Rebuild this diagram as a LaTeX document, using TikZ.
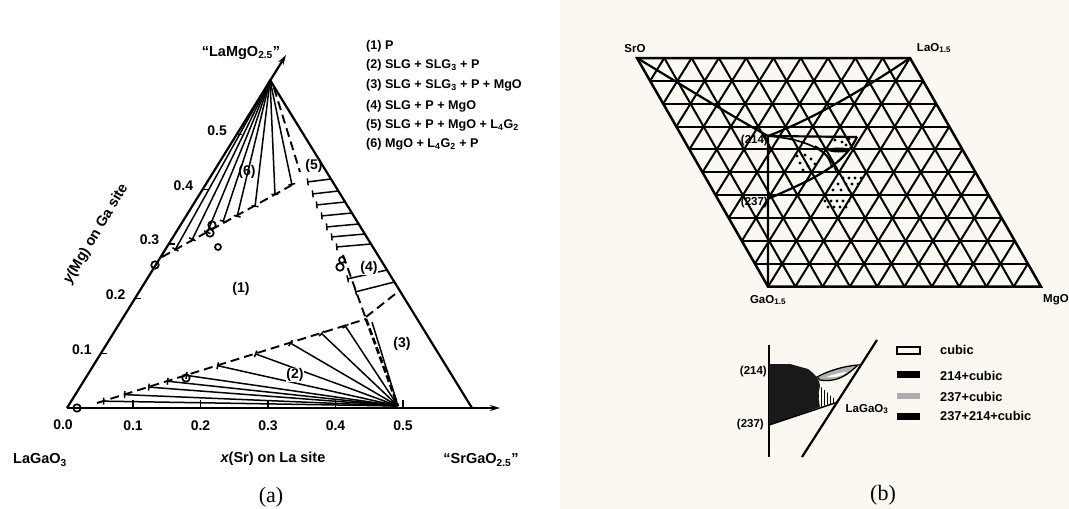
\documentclass[tikz,border=0pt]{standalone}
\usepackage{fontspec}
\setmainfont{Liberation Sans}
\newfontfamily\serifab{Liberation Serif}
\usetikzlibrary{arrows.meta,calc}
\definecolor{cream}{RGB}{250,248,241}
\newcommand\fsNum{\bfseries\fontsize{14}{15}\selectfont}
\newcommand\fsLeg{\bfseries\fontsize{12.6}{14}\selectfont}
\newcommand\fsLegB{\bfseries\fontsize{12.8}{14}\selectfont}
\newcommand\fsBig{\bfseries\fontsize{14.5}{16}\selectfont}
\newcommand\fsSmall{\bfseries\fontsize{11.5}{13}\selectfont}
\begin{document}
\begin{tikzpicture}[x=1pt,y=-1pt,
  mainln/.style={line width=2.2pt},
  tickln/.style={line width=1.5pt},
  tieln/.style={line width=1.5pt},
  tieend/.style={line width=1.5pt,-{Bar[width=7pt,line width=1.5pt]}},
  bnd/.style={line width=1.9pt,dash pattern=on 9pt off 5pt},
  bndthick/.style={line width=2.7pt,dash pattern=on 7pt off 3pt},
  lbl/.style={font=\fsNum,inner sep=0.5pt},
  leg/.style={font=\fsLeg,inner sep=0pt,anchor=west},
  legb/.style={font=\fsLegB,inner sep=0pt,anchor=west},
  dpt/.style={circle,draw,line width=1.7pt,minimum size=7.5pt,inner sep=0pt},
  gridln/.style={line width=2pt},
  arr/.style={-{Stealth[length=10pt,width=6pt]}}]
\useasboundingbox (0,0) rectangle (1069,509);
\fill[white] (0,0) rectangle (1069,509);
\fill[cream] (560,0) rectangle (1069,509);

% ================= (a) =================
\coordinate (O) at (67,408);
\coordinate (Rc) at (472,408);
\coordinate (A) at (270,80);
\coordinate (Ax) at (500,408);
\coordinate (Ay) at (286,55);
\coordinate (F) at (398,406);
\coordinate (J) at (366,319);
\coordinate (D0) at (97,403);

\draw[mainln,arr] (O) -- (Ax);
\draw[mainln,arr] (O) -- (Ay);
\draw[mainln] (Rc) -- (A);

% x ticks
\node[lbl] (x0) at (63,425) {0.0};
\foreach \xx/\lab [count=\n] in {133/0.1,200.5/0.2,268/0.3,335.5/0.4,403/0.5} {
  \draw[tickln] (\xx,408) -- (\xx,400);
  \node[lbl] (xt\n) at (\xx,426) {\lab};
}
% y ticks
\foreach \lab [count=\n] in {0.1,0.2,0.3,0.4,0.5} {
  \coordinate (yt\n) at ($(O)!\n/6!(A)$);
  \draw[tickln] (yt\n) -- ++(6,0);
  \node[lbl] (yl\n) at ($(yt\n)+(-19,-4)$) {\lab};
}

% region (2): fan from F
\draw[bnd] (D0) -- (J);
\foreach \t in {0.022,0.1,0.19,0.26,0.33,0.446,0.587,0.717,0.833,0.922} {
  \draw[tieend] (F) -- ($(D0)!\t!(J)$);
}
\draw[tieln] (F) -- (372,322);
\draw[bndthick] (J) -- (F);

% region (6): fan from apex
\draw[bnd] (162,257) -- (292,185);
\foreach \p in {(175,250),(192,240),(207,233),(223,222),(237,217),(255,207),(275,195),(292,185)} {
  \draw[tieend] (A) -- \p;
}
% region (5)
\draw[bnd] (274,88) -- (300,172);

% region (4)/(5) hatch
\foreach \lx/\ly/\rx/\ry in {307/182/331/179,312/194/338.4/191,316/205/345.1/202,321/216/351.9/213,326/227/358.7/224,331/237/364.8/234,336/247/371/244,347/279/387/270,355/292/394.4/282} {
  \draw[tieend] (\rx,\ry) -- (\lx,\ly);
}
\draw[bnd] (343,255) -- (J);
\draw[bnd] (366,317) -- (399,291);

% data points
\node[dpt] (c1) at (77,408) {};
\node[dpt] (c2) at (155,265) {};
\node[dpt] (c3) at (186,378) {};
\node[dpt] (c4) at (212,225) {};
\node[dpt] (c5) at (210,233) {};
\node[dpt,minimum size=6pt] (c6) at (218,247) {};
\node[dpt,minimum size=6pt] (c7) at (342,260) {};
\node[dpt] (c8) at (340,267) {};

% region labels
\node[lbl] (r1) at (241,289) {(1)};
\node[lbl,fill=white] (r2) at (295,375) {(2)};
\node[lbl] (r3) at (402,344) {(3)};
\node[lbl,fill=white] (r4) at (369,268) {(4)};
\node[lbl] (r5) at (314,166) {(5)};
\node[lbl] (r6) at (247,172) {(6)};

% corner and axis labels
\node[font=\fsBig] (tLaMg) at (241,53) {“LaMgO\textsubscript{2.5}”};
\node[font=\fsBig] (tLaGa) at (40,460) {LaGaO\textsubscript{3}};
\node[font=\fsBig] (tSrGa) at (481,460) {“SrGaO\textsubscript{2.5}”};
\node[font=\fsBig] (tx) at (273,459) {{\itshape x}(Sr) on La site};
\node[font=\fsBig,rotate=59.3] (ty) at (96,234) {{\itshape y}(Mg) on Ga site};
\node[font=\serifab\fontsize{22}{24}\selectfont] (ta) at (271,497) {(a)};

% legend (a)
\node[leg] (g1) at (366,46) {(1) P};
\node[leg] (g2) at (366,65) {(2) SLG + SLG\textsubscript{3} + P};
\node[leg] (g3) at (366,85) {(3) SLG + SLG\textsubscript{3} + P + MgO};
\node[leg] (g4) at (366,106) {(4) SLG + P + MgO};
\node[leg] (g5) at (366,125) {(5) SLG + P + MgO + L\textsubscript{4}G\textsubscript{2}};
\node[leg] (g6) at (366,144) {(6) MgO + L\textsubscript{4}G\textsubscript{2} + P};

% ================= (b) =================
\begin{scope}[shift={(637,58)},x={(27.3pt,0pt)},y={(13.1pt,-22.86pt)}]
  \foreach \k in {1,...,9} {
    \draw[gridln] (0,\k) -- (10,\k);
    \draw[gridln] (\k,0) -- (\k,10);
  }
  \foreach \k in {1,...,19} {
    \pgfmathtruncatemacro{\ia}{min(\k,10)}
    \pgfmathtruncatemacro{\ja}{\k-\ia}
    \pgfmathtruncatemacro{\ib}{max(0,\k-10)}
    \pgfmathtruncatemacro{\jb}{\k-\ib}
    \draw[gridln] (\ia,\ja) -- (\ib,\jb);
  }
  \draw[line width=2.5pt] (0,0) -- (10,0) -- (10,10) -- (0,10) -- cycle;
  \coordinate (SrO) at (0,0);
  \coordinate (LaO) at (10,0);
  \coordinate (GaO) at (0,10);
  \coordinate (MgO) at (10,10);
\end{scope}
\coordinate (T214) at (768,136);
\coordinate (T237) at (768,199);
\draw[mainln] (SrO) .. controls (690,90) and (730,115) .. (T214);
\draw[mainln] (LaO) .. controls (860,92) and (810,120) .. (T214);
\draw[mainln] (T214) -- (GaO);
\draw[mainln] (T214) -- (857,137);
\draw[mainln] (T237) .. controls (810,180) and (842,168) .. (857,137);
\draw[line width=1.7pt] (T214) .. controls (805,139) and (830,150) .. (836,171);
\draw[line width=1.5pt] (815,146) .. controls (826,152) and (830,160) .. (832,168);
\fill (839,150) ellipse [x radius=11pt, y radius=2.5pt];
\foreach \p in {(797,156),(805,155),(811,159),(800,163),(808,166),(815,164),(803,170),(835,140),(842,142),(849,139),(846,145),
  (843,178),(849,178),(855,178),(861,178),(838,184),(846,184),(852,184),(858,184),(833,190),(841,190),(849,190),
  (825,201),(831,201),(837,201),(843,201),(849,201),(828,207),(834,207),(840,207),(846,207)} {
  \fill \p circle (1.6pt);
}
\node[font=\fsSmall] (tSrO) at (635,49) {SrO};
\node[font=\fsSmall] (tLaO) at (934,48) {LaO\textsubscript{1.5}};
\node[font=\fsSmall] (tGaO) at (768,300) {GaO\textsubscript{1.5}};
\node[font=\fsSmall] (tMgO) at (1056,300) {MgO};
\node[font=\fsSmall,anchor=east,inner sep=1pt] (t214) at (769,141) {(214)};
\node[font=\fsSmall,anchor=east,inner sep=1pt] (t237) at (769,203) {(237)};

% bottom inset
\coordinate (B214) at (769,364);
\coordinate (B237) at (769,425);
\draw[mainln] (769,345) -- (769,457);
\draw[mainln] (877,340) -- (802,457);
\fill[black!90] (B214) -- (790,364) -- (808,369) .. controls (815,374) and (820,380) .. (820,386) -- (818,396) -- (820,407) -- (B237) -- cycle;
\begin{scope}
  \clip (820,386) -- (838,402) -- (820,407) -- (818,396) -- cycle;
  \foreach \xx in {818,821,...,840} { \draw[line width=0.9pt] (\xx,380) -- (\xx,410); }
\end{scope}
\draw[line width=1.5pt] (B237) -- (838,402);
\filldraw[fill=gray!60,line width=1.3pt] (817,377) .. controls (830,370) and (845,366) .. (858,365) .. controls (850,372) and (840,383) .. (820,380) -- cycle;
\fill[white] (826,377) .. controls (835,374) and (842,372) .. (847,372) .. controls (842,376) and (835,378) .. (826,377) -- cycle;
\node[font=\fsSmall,anchor=east,inner sep=1pt] (b214) at (768,372) {(214)};
\node[font=\fsSmall,anchor=east,inner sep=1pt] (b237) at (765,425) {(237)};
\node[font=\fsSmall] (bLa) at (867,409) {LaGaO\textsubscript{3}};

% legend (b)
\draw[line width=1.4pt] (897,347) rectangle (920,354);
\fill (897,371) rectangle (920,378);
\fill[gray!65] (897,393) rectangle (920,399);
\fill (897,413) rectangle (920,420);
\node[legb] (k1) at (940,350) {cubic};
\node[legb] (k2) at (940,376) {214+cubic};
\node[legb] (k3) at (940,397) {237+cubic};
\node[legb] (k4) at (940,416) {237+214+cubic};
\node[font=\serifab\fontsize{22}{24}\selectfont] (tb) at (883,495) {(b)};
\end{tikzpicture}
\end{document}
